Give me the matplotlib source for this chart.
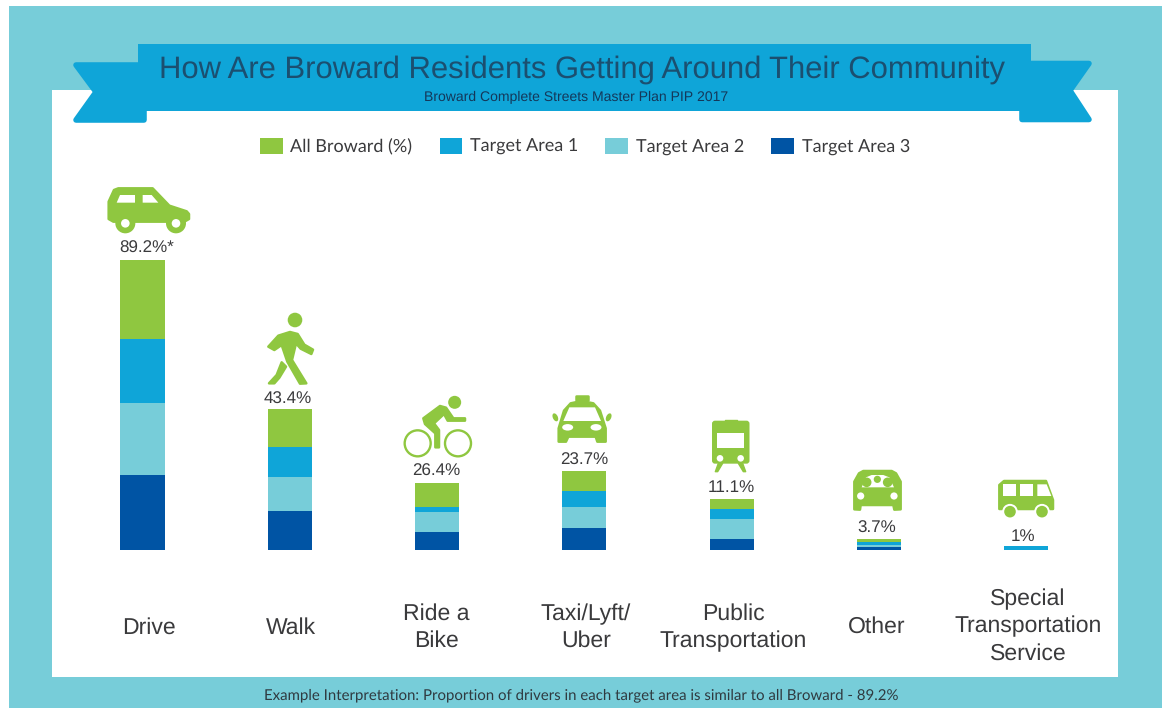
import matplotlib
matplotlib.use("Agg")
import matplotlib.pyplot as plt
from matplotlib.patches import Circle, Ellipse, Polygon, Rectangle, FancyBboxPatch

plt.rcParams["text.hinting"] = "no_hinting"
plt.rcParams["text.hinting_factor"] = 1

W, H = 1162, 708

categories = ["Drive", "Walk", "Ride a\nBike", "Taxi/Lyft/\nUber", "Public\nTransportation", "Other",
              "Special\nTransportation\nService"]
value_labels = ["89.2%*", "43.4%", "26.4%", "23.7%", "11.1%", "3.7%", "1%"]

# bar segments, bottom to top
area3 = [23.0, 12.0, 5.6, 6.9, 3.5, 0.9, 0]
area2 = [22.1, 10.4, 6.1, 6.4, 6.0, 0.7, 0]
area1 = [19.9, 9.2, 1.6, 4.8, 3.1, 0.9, 1.2]
broward = [24.2, 11.7, 7.5, 6.4, 3.1, 0.9, 0]

GREEN = "#8FC740"
BLUE = "#0FA5D8"
TEAL = "#77CDD9"
NAVY = "#0054A4"
DARK = "#3A3A3C"
TITLE = "#1B4F70"
SANS = "Liberation Sans"

fig = plt.figure(figsize=(W / 100, H / 100), dpi=100, facecolor="white")

# page layer in pixel coordinates, for the frame, ribbon, icons and text
page = fig.add_axes([0, 0, 1, 1])
page.set_xlim(0, W)
page.set_ylim(H, 0)
page.axis("off")


def shape(points, color=GREEN, lw=1.8, zorder=3):
    page.add_patch(Polygon(points, closed=True, facecolor=color, edgecolor=color, lw=lw,
                           joinstyle="round", zorder=zorder))


def hole(points, zorder=4):
    page.add_patch(Polygon(points, closed=True, facecolor="white", edgecolor="none", zorder=zorder))


def disc(x, y, r, color=GREEN, zorder=4):
    page.add_patch(Circle((x, y), r, facecolor=color, edgecolor="none", zorder=zorder))


def from_zoom(points, x0, y0):
    """ Crop coordinates (3x) to page pixels """
    return [(x0 + x / 3, y0 + y / 3) for x, y in points]


def draw_frame():
    page.add_patch(Rectangle((9, 6), W - 9, H - 6, facecolor=TEAL, edgecolor="none", zorder=1))
    page.add_patch(Rectangle((51.5, 89.5), 1066, 587.5, facecolor="white", edgecolor="none", zorder=1))


def draw_ribbon():
    shape([(76, 65), (140, 65), (140, 110), (144, 110), (144, 120), (76, 120), (96, 92)], BLUE, lw=4, zorder=2)
    shape([(1089, 63.5), (1025, 63.5), (1025, 110), (1022, 110), (1022, 119.5), (1089, 119.5), (1070, 90.5)],
          BLUE, lw=4, zorder=2)
    page.add_patch(Rectangle((137.5, 44), 893, 66.5, facecolor=BLUE, edgecolor="none", zorder=2))
    page.text(582, 70, "How Are Broward Residents Getting Around Their Community", family=SANS,
              fontsize=22.6, color=TITLE, ha="center", va="center", zorder=5)
    page.text(576.5, 97.5, "Broward Complete Streets Master Plan PIP 2017", family=SANS,
              fontsize=10.3, color="#14385A", ha="center", va="center", zorder=5)


def draw_car():
    zx, zy = 90, 170
    shape(from_zoom([(56, 147), (56, 95), (72, 60), (85, 55), (188, 55), (238, 107), (290, 124), (297, 132),
                     (297, 147), (283, 155), (70, 155)], zx, zy))
    for cx in [106, 258]:
        x, y = from_zoom([(cx, 160)], zx, zy)[0]
        disc(x, y, 10)
        disc(x, y, 4.3, "white", zorder=5)
    hole(from_zoom([(80, 98), (90, 75), (135, 75), (135, 98)], zx, zy), zorder=5)
    hole(from_zoom([(158, 75), (185, 75), (205, 98), (158, 98)], zx, zy), zorder=5)


def draw_walker():
    zx, zy = 90, 170
    disc(295, 320, 7.3)
    shape(from_zoom([(535, 530), (565, 497), (600, 486), (623, 492), (643, 524), (669, 539), (664, 552),
                     (632, 536), (618, 520), (606, 570), (649, 640), (630, 641), (592, 575), (575, 525),
                     (553, 540)], zx, zy))
    shape(from_zoom([(575, 577), (588, 590), (568, 623), (553, 640), (537, 640), (560, 615)], zx, zy))


def draw_bike():
    zx, zy = 390, 380
    x, y = from_zoom([(194, 67)], zx, zy)[0]
    disc(x, y, 6.5)
    shape(from_zoom([(100, 115), (150, 78), (168, 83), (190, 115), (225, 115), (225, 122), (173, 122),
                     (162, 102), (132, 130), (147, 150), (147, 202), (136, 202), (136, 160), (105, 132)],
                    zx, zy))
    for cx in [83, 204]:
        x, y = from_zoom([(cx, 190)], zx, zy)[0]
        page.add_patch(Circle((x, y), 13, facecolor="white", edgecolor=GREEN, lw=1.7, zorder=2.5))


def draw_taxi():
    zx, zy = 390, 380
    shape(from_zoom([(506, 145), (522, 92), (542, 70), (575, 63), (610, 70), (630, 92), (647, 145), (647, 185),
                     (622, 185), (617, 170), (535, 170), (528, 185), (506, 185)], zx, zy))
    shape(from_zoom([(558, 49), (595, 49), (595, 60), (558, 60)], zx, zy))
    hole(from_zoom([(538, 82), (615, 82), (633, 123), (520, 123)], zx, zy))
    for cx in [533, 618]:
        x, y = from_zoom([(cx, 142)], zx, zy)[0]
        page.add_patch(Ellipse((x, y), 11, 6.5, facecolor="white", edgecolor="none", zorder=4))
    for cx, tilt in [(496, -25), (656, 25)]:
        x, y = from_zoom([(cx, 112)], zx, zy)[0]
        page.add_patch(Ellipse((x, y), 5, 8.5, angle=tilt, facecolor=GREEN, edgecolor="none", zorder=4))


def draw_train():
    zx, zy = 390, 380
    x0, y0 = from_zoom([(966, 122)], zx, zy)[0]
    page.add_patch(FancyBboxPatch((x0 + 2, y0 + 2), 33.5, 39, boxstyle="round,pad=2,rounding_size=3",
                                  facecolor=GREEN, edgecolor="none", zorder=3))
    shape(from_zoom([(1005, 119), (1040, 119), (1040, 125), (1005, 125)], zx, zy), lw=1)
    hole(from_zoom([(980, 158), (1063, 158), (1063, 203), (980, 203)], zx, zy))
    for cx in [990, 1052]:
        x, y = from_zoom([(cx, 235)], zx, zy)[0]
        disc(x, y, 3.3, "white")
    shape(from_zoom([(985, 250), (998, 250), (983, 275), (976, 275)], zx, zy), lw=1)
    shape(from_zoom([(1045, 250), (1058, 250), (1067, 275), (1060, 275)], zx, zy), lw=1)


def draw_other():
    zx, zy = 830, 450
    shape(from_zoom([(73, 95), (87, 70), (100, 63), (185, 63), (198, 70), (212, 95), (212, 178), (193, 179),
                     (190, 165), (92, 165), (90, 179), (73, 178)], zx, zy))
    hole(from_zoom([(95, 112), (108, 82), (125, 75), (160, 75), (178, 82), (192, 112)], zx, zy))
    for cx, cy, r in [(110, 97, 4.8), (142, 88, 3.6), (173, 97, 4.8)]:
        x, y = from_zoom([(cx, cy)], zx, zy)[0]
        disc(x, y, r, zorder=5)
    for cx in [92, 192]:
        x, y = from_zoom([(cx, 138)], zx, zy)[0]
        disc(x, y, 3.6, "white")


def draw_bus():
    zx, zy = 830, 450
    shape(from_zoom([(508, 105), (522, 93), (648, 93), (669, 150), (669, 177), (508, 177)], zx, zy))
    for cx in [540, 636]:
        x, y = from_zoom([(cx, 185)], zx, zy)[0]
        disc(x, y, 7.8, "white")
        disc(x, y, 5.8, zorder=5)
    for points in [[(520, 103), (558, 103), (558, 138), (520, 138)],
                   [(570, 103), (608, 103), (608, 138), (570, 138)],
                   [(622, 103), (650, 103), (664, 138), (622, 138)]]:
        hole(from_zoom(points, zx, zy))


draw_frame()
draw_ribbon()
for draw_icon in [draw_car, draw_walker, draw_bike, draw_taxi, draw_train, draw_other, draw_bus]:
    draw_icon()

# chart layer: bars sit on y=550.4 px, 3.26 px per percent, 147.3 px between bars
ax = fig.add_axes([52 / W, (H - 550.4) / H, (1117 - 52) / W, (550.4 - 170) / H], zorder=2)
ax.patch.set_alpha(0)
ax.set_xlim((52 - 142.5) / 147.3, (1117 - 142.5) / 147.3)
ax.set_ylim(0, (550.4 - 170) / 3.26)
ax.axis("off")

positions = list(range(len(categories)))
bottoms = [0] * len(categories)
handles = {}
for name, values, color in [("Target Area 3", area3, NAVY), ("Target Area 2", area2, TEAL),
                            ("Target Area 1", area1, BLUE), ("All Broward (%)", broward, GREEN)]:
    handles[name] = ax.bar(positions, values, width=0.3, bottom=bottoms, color=color, linewidth=0)
    bottoms = [b + v for b, v in zip(bottoms, values)]

legend_names = ["All Broward (%)", "Target Area 1", "Target Area 2", "Target Area 3"]
ax.legend([handles[n] for n in legend_names], legend_names, ncol=4, frameon=False, loc="center",
          bbox_to_anchor=(585 / W, (H - 146.5) / H), bbox_transform=fig.transFigure,
          prop={"family": "Lato", "size": 13}, labelcolor=DARK, handlelength=1.27, handleheight=1.0,
          handletextpad=0.42, columnspacing=1.5, borderpad=0, borderaxespad=0)

# labels, placed by hand as in the original
value_xy = [(147, 248), (288, 399), (436, 471), (584, 460), (731, 488), (877, 528), (1023, 537)]
for (x, y), text in zip(value_xy, value_labels):
    page.text(x, y, text, family=SANS, fontsize=12.2, color=DARK, ha="center", va="center", zorder=5)

label_xy = [(148.5, 628), (291, 628), (436, 627.5), (586, 627.5), (733, 627.5), (877, 627), (1028, 626.5)]
for (x, y), text in zip(label_xy, categories):
    page.text(x, y, text, family=SANS, fontsize=16.4, color=DARK, ha="center", va="center",
              linespacing=1.33, zorder=5)

page.text(581.5, 695, "Example Interpretation: Proportion of drivers in each target area is similar to all Broward - 89.2%",
          family="Lato", fontsize=10.9, color="#2F3A40", ha="center", va="center", zorder=5)

fig.savefig("out.png", dpi=100)
